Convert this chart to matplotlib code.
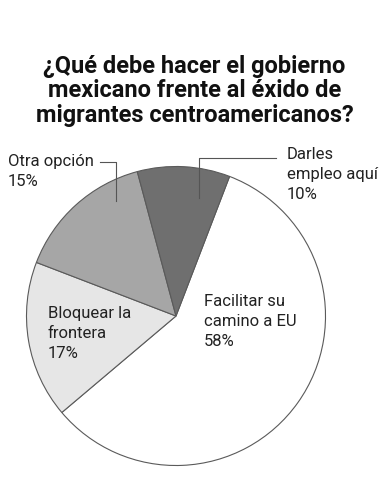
import matplotlib
matplotlib.use("Agg")
import matplotlib.pyplot as plt
from matplotlib.lines import Line2D

plt.rcParams['font.family'] = ['Roboto', 'DejaVu Sans']

# data (clockwise from the right edge of the dark slice)
labels = ["Facilitar su\ncamino a EU", "Bloquear la\nfrontera", "Otra opción", "Darles\nempleo aquí"]
values = [58, 17, 15, 10]
colors = ["#ffffff", "#e6e6e6", "#a6a6a6", "#6f6f6f"]
title = "¿Qué debe hacer el gobierno\nmexicano frente al éxido de\nmigrantes centroamericanos?"

W, H = 389, 500
fig = plt.figure(figsize=(W / 100, H / 100), dpi=100)

def fx(x):
    return x / W

def fy(y):
    return 1 - y / H

# pie placement in pixels
cx, cy, r = 176, 316, 151
ax = fig.add_axes([fx(cx - r), fy(cy + r), 2 * r / W, 2 * r / H])
ax.pie(values, colors=colors, startangle=69, counterclock=False, radius=1,
       wedgeprops=dict(edgecolor="#5a5a5a", linewidth=0.8))
ax.set_xlim(-1.01, 1.01)
ax.set_ylim(-1.01, 1.01)
ax.set_aspect("equal")
ax.axis("off")

fig.text(0.5, fy(91), title, ha="center", va="center", fontsize=17,
         fontweight="bold", linespacing=1.1, color="#111111")

lbl = dict(fontsize=12, color="#222222", linespacing=1.4, va="top", ha="left")
fig.text(fx(8), fy(154), f"{labels[2]}\n{values[2]}%", **lbl)
fig.text(fx(287), fy(147), f"{labels[3]}\n{values[3]}%", **lbl)
fig.text(fx(48), fy(306), f"{labels[1]}\n{values[1]}%", **lbl)
fig.text(fx(204), fy(294), f"{labels[0]}\n{values[0]}%", **lbl)

# leader lines
for xs, ys in [([100, 116, 116], [162, 162, 201]), ([276, 199, 199], [158, 158, 198])]:
    fig.add_artist(Line2D([fx(x) for x in xs], [fy(y) for y in ys],
                          color="#555555", linewidth=0.8))

fig.savefig("out.png", dpi=100, facecolor="white")
